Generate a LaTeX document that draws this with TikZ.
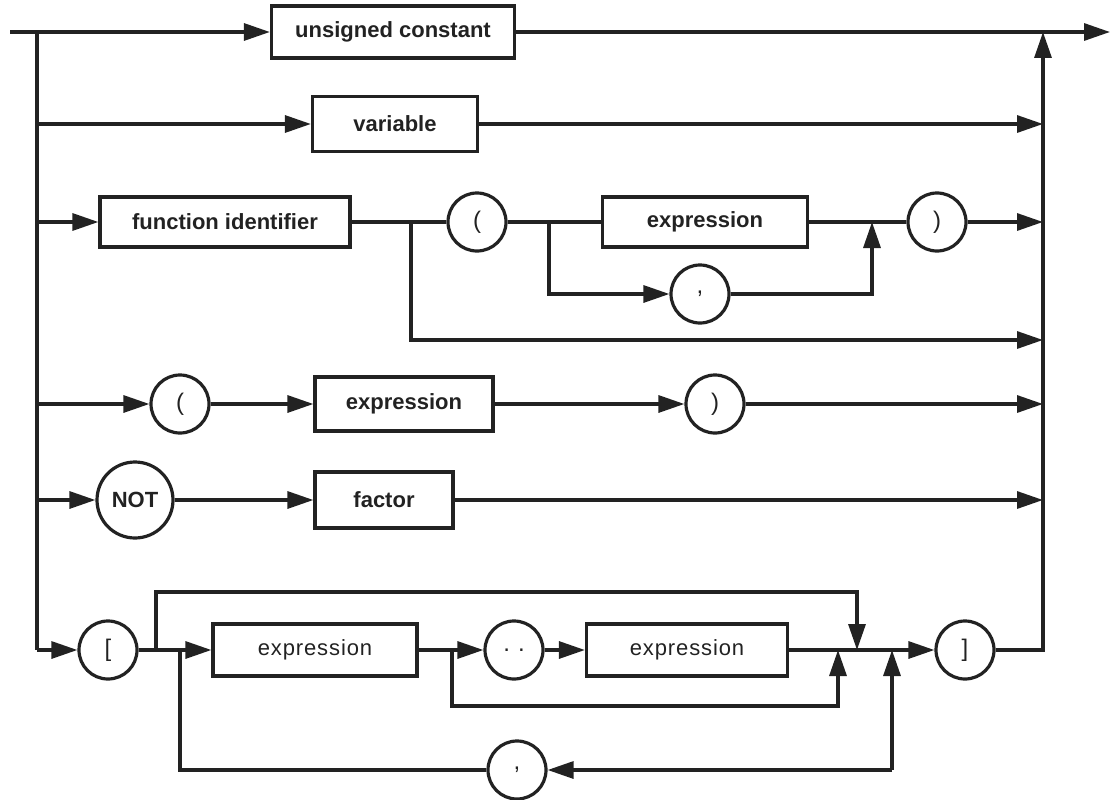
\documentclass[tikz,border=0pt]{standalone}
\usepackage{fontspec}
\setmainfont{Liberation Sans}
\usetikzlibrary{arrows.meta}

\definecolor{ink}{RGB}{34,34,34}

\tikzset{
  wire/.style={draw=ink, line width=3.2pt, line join=miter},
  arr/.style={wire, -{Triangle[length=26pt,width=17pt]}},
  boldlab/.style={text=ink, font=\fontsize{22}{25}\selectfont\bfseries},
  lightlab/.style={text=ink, font=\fontsize{22}{26}\selectfont\addfontfeature{LetterSpace=4}},
  sbox/.style={draw=ink, rectangle, line width=3.2pt, inner sep=0pt,
               minimum height=52pt, boldlab},
  lbox/.style={sbox, lightlab},
  term/.style={draw=ink, circle, line width=3.2pt, inner sep=0pt,
               minimum size=58pt, text=ink, font=\fontsize{24}{26}\selectfont},
}

\begin{document}
\begin{tikzpicture}[x=1pt, y=-1pt]
\useasboundingbox (0,0) rectangle (1116,800);

% ---- left and right rails ----
\coordinate (start) at (10,32);
\coordinate (L1) at (37,32);
\coordinate (L2) at (37,124);
\coordinate (L3) at (37,222);
\coordinate (L4) at (37,404);
\coordinate (L5) at (37,500);
\coordinate (L6) at (37,650);
\coordinate (R1) at (1043,32);
\coordinate (R2) at (1043,124);
\coordinate (R3) at (1043,222);
\coordinate (R3b) at (1043,340);
\coordinate (R4) at (1043,404);
\coordinate (R5) at (1043,500);
\coordinate (finish) at (1110,32);

\draw[wire] (L1) -- (L6);

% ---- unsigned constant ----
\node[sbox, minimum width=243pt] (uc) at (393,32) {unsigned constant};
\draw[arr] (start) -- (uc);
\draw[arr] (uc) -- (finish);

% ---- variable ----
\node[sbox, minimum width=165pt, minimum height=55pt] (var) at (395,124) {variable};
\draw[arr] (L2) -- (var);
\draw[arr] (var) -- (R2);

% ---- function identifier ( expression {, expression} ) ----
\node[sbox, minimum width=250pt, minimum height=50pt] (fid) at (225,222) {function identifier};
\node[term] (fopen) at (477,222) {(};
\node[sbox, minimum width=205pt, minimum height=50pt] (fexp) at (705,222) {expression};
\node[term] (fclose) at (937,222) {)};
\node[term] (fcomma) at (700,294) {,};
\coordinate (fj1) at (411,222);
\coordinate (fj2) at (549,222);
\coordinate (fj3) at (872,222);
\draw[arr] (L3) -- (fid);
\draw[wire] (fid) -- (fopen);
\draw[wire] (fopen) -- (fexp);
\draw[wire] (fexp) -- (fclose);
\draw[arr] (fclose) -- (R3);
\draw[arr] (fj2) |- (fcomma);
\draw[arr] (fcomma) -| (fj3);
\draw[arr] (fj1) |- (R3b);

% ---- ( expression ) ----
\node[term] (popen) at (180,404) {(};
\node[sbox, minimum width=178pt, minimum height=54pt] (pexp) at (404,404) {expression};
\node[term] (pclose) at (715,404) {)};
\draw[arr] (L4) -- (popen);
\draw[arr] (popen) -- (pexp);
\draw[arr] (pexp) -- (pclose);
\draw[arr] (pclose) -- (R4);

% ---- NOT factor ----
\node[term, minimum size=76pt, font=\fontsize{22}{25}\selectfont\bfseries] (nt) at (135,500) {NOT};
\node[sbox, minimum width=138pt, minimum height=56pt] (fac) at (384,500) {factor};
\draw[arr] (L5) -- (nt);
\draw[arr] (nt) -- (fac);
\draw[arr] (fac) -- (R5);

% ---- set constructor [ expression .. expression , ... ] ----
\node[term] (sopen) at (108,650) {[};
\node[lbox, minimum width=204pt] (sexp1) at (315,650) {expression};
\node[term] (sdots) at (514,650) {.\,\,.};
\node[lbox, minimum width=201pt] (sexp2) at (687,650) {expression};
\node[term] (sclose) at (965,650) {]};
\node[term] (scomma) at (517,770) {,};
\coordinate (sjA) at (156,650);
\coordinate (sjB) at (180,650);
\coordinate (sjC) at (452,650);
\coordinate (sjD) at (838,650);
\coordinate (sjE) at (857,650);
\coordinate (sjF) at (892,650);
\coordinate (stop) at (857,592);
\coordinate (sbot) at (838,706);
\coordinate (sret) at (892,770);

\draw[arr] (L6) -- (sopen);
\draw[arr] (sopen) -- (sexp1);
\draw[arr] (sexp1) -- (sdots);
\draw[arr] (sdots) -- (sexp2);
\draw[arr] (sexp2) -- (sclose);
\draw[arr] (sjA) |- (stop) -- (sjE);
\draw[arr] (sjC) |- (sbot) -- (sjD);
\draw[arr] (sret) -- (sjF);
\draw[arr] (sret) -- (scomma);
\draw[wire] (scomma) -| (sjB);
\draw[arr] (sclose) -| (R1);
\end{tikzpicture}
\end{document}
